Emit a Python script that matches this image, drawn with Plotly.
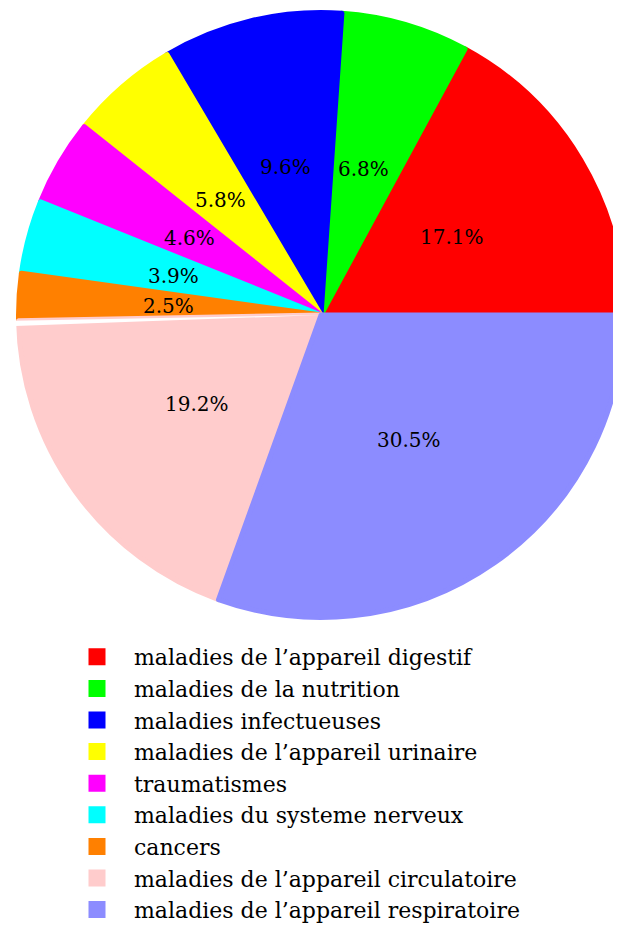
import math
import plotly.graph_objects as go

labels = [
    "maladies de l\u2019appareil digestif",
    "maladies de la nutrition",
    "maladies infectueuses",
    "maladies de l\u2019appareil urinaire",
    "traumatismes",
    "maladies du systeme nerveux",
    "cancers",
    "maladies de l\u2019appareil circulatoire",
    "maladies de l\u2019appareil respiratoire",
]
values = [17.1, 6.8, 9.6, 5.8, 4.6, 3.9, 2.5, 19.2, 30.5]
colors = ["#FF0000", "#00FF00", "#0000FF", "#FFFF00", "#FF00FF",
          "#00FFFF", "#FF8000", "#FFCCCC", "#8C8CFF"]
# thin white wedge seen between "cancers" and the circulatory slice
gap_after = 7          # number of slices before the wedge
gap_size = 0.27        # in percent

W, H = 621, 926
LW = 5                        # slice outline (same colour as fill)
cx, cy, r = 313, 307, 305     # visible pie geometry in figure pixels


def domain_for(radius):
    return dict(x=[(cx - radius) / W, (cx + radius) / W],
                y=[1 - (cy + radius) / H, 1 - (cy - radius) / H])


total = sum(values)
fig = go.Figure()
fig.add_trace(go.Pie(
    labels=labels, values=values, sort=False,
    direction="counterclockwise",
    rotation=90 - 360 * values[0] / total,
    marker=dict(colors=colors, line=dict(color=colors, width=LW)),
    textinfo="none", hoverinfo="label+percent",
    domain=domain_for(r - LW / 2),
))

# overlay drawing only the white wedge
before = sum(values[:gap_after])
gap_vals = [before, gap_size, total - before - gap_size]
fig.add_trace(go.Pie(
    labels=["a", "b", "c"], values=gap_vals, sort=False,
    direction="counterclockwise",
    rotation=90 - 360 * gap_vals[0] / total,
    marker=dict(colors=["rgba(0,0,0,0)", "white", "rgba(0,0,0,0)"],
                line=dict(width=0)),
    textinfo="none", hoverinfo="skip", showlegend=False,
    domain=domain_for(r + 1),
))

# percentage labels at half radius, middle angle of each slice
cum = 0.0
annotations = []
for v in values:
    mid = (cum + v / 2) / total * 2 * math.pi
    cum += v
    px = cx + 0.5 * r * math.cos(mid)
    py = cy - 0.5 * r * math.sin(mid)
    annotations.append(dict(
        x=px / W, y=1 - py / H, xref="paper", yref="paper",
        text=f"{v:.1f}%", showarrow=False,
        font=dict(family="DejaVu Serif", size=20, color="black"),
        xanchor="center", yanchor="middle",
    ))

fig.update_layout(
    width=W, height=H,
    margin=dict(l=0, r=0, t=0, b=0),
    paper_bgcolor="white",
    plot_bgcolor="white",
    annotations=annotations,
    showlegend=True,
    legend=dict(
        orientation="v", x=52 / W, y=1 - 628 / H,
        xanchor="left", yanchor="top",
        font=dict(family="DejaVu Serif", size=22, color="black"),
        itemwidth=64, traceorder="normal",
        bgcolor="rgba(0,0,0,0)",
    ),
)
fig.write_html("out.html")
